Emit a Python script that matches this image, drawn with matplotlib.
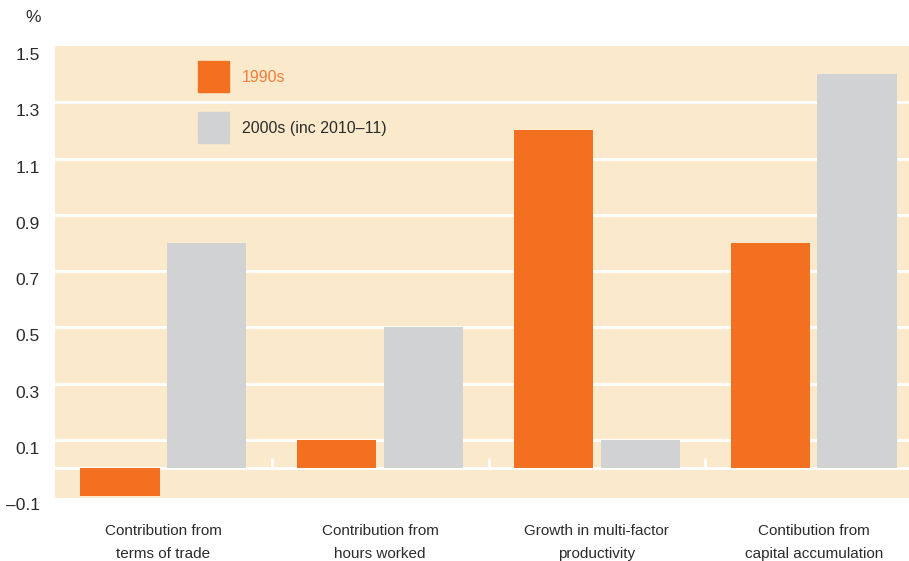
import matplotlib
matplotlib.use("Agg")
import matplotlib.pyplot as plt
import matplotlib.transforms as mtransforms
import numpy as np

categories = ["Contribution from\nterms of trade",
              "Contribution from\nhours worked",
              "Growth in multi-factor\nproductivity",
              "Contibution from\ncapital accumulation"]
series_names = ["1990s", "2000s (inc 2010\u201311)"]
values_1990s = [-0.1, 0.1, 1.2, 0.8]
values_2000s = [0.8, 0.5, 0.1, 1.4]
ytick_values = [-0.1, 0.1, 0.3, 0.5, 0.7, 0.9, 1.1, 1.3, 1.5]
ytick_labels = ["\u20130.1", "0.1", "0.3", "0.5", "0.7", "0.9", "1.1", "1.3", "1.5"]

ORANGE = "#F37021"
GREY = "#D1D2D4"
BG = "#FAEACB"
TEXT = "#2b2b2b"

plt.rcParams["font.family"] = ["Liberation Sans", "DejaVu Sans"]

W, H = 909, 561
fig = plt.figure(figsize=(W / 100, H / 100), dpi=100)
ax = fig.add_axes([55 / W, (H - 498) / H, (W - 55) / W, (498 - 46) / H])
ax.set_facecolor(BG)

x = np.arange(len(categories))
bw = 0.365
off = 0.2

# white guide lines behind the bars
for g in [0.1, 0.3, 0.5, 0.7, 0.9, 1.1, 1.3]:
    ax.axhline(g, color="white", lw=2, zorder=1)
ax.axhline(0, color="white", lw=2, zorder=1)

ax.bar(x - off, values_1990s, width=bw, color=ORANGE, zorder=2, label=series_names[0])
ax.bar(x + off, values_2000s, width=bw, color=GREY, zorder=2, label=series_names[1])

# small separators between the groups
for s in x[:-1] + 0.5:
    ax.plot([s, s], [0, 0.037], color="white", lw=2, zorder=1, solid_capstyle="butt")

ax.set_xlim(-0.5, 3.44)
ax.set_ylim(-0.106, 1.5)

for sp in ax.spines.values():
    sp.set_visible(False)

ax.set_xticks(x)
ax.set_xticklabels(categories, fontsize=11, color=TEXT, linespacing=1.75)
ax.tick_params(axis="x", length=0, pad=19)

ax.set_yticks(ytick_values)
ax.set_yticklabels(ytick_labels, fontsize=12.5, color=TEXT)
ax.tick_params(axis="y", length=0, pad=11)
shift = mtransforms.ScaledTranslation(0, -8 / 100, fig.dpi_scale_trans)
for lbl in ax.get_yticklabels():
    lbl.set_transform(lbl.get_transform() + shift)

fig.text(33 / W, 1 - 18 / H, "%", fontsize=12.5, color=TEXT, ha="center", va="center")

# legend drawn as swatches with text
fig_tr = fig.transFigure
for (y0, col, name, tcol) in [(61, ORANGE, series_names[0], "#F47C3C"),
                              (112, GREY, series_names[1], TEXT)]:
    fig.patches.append(plt.Rectangle((198 / W, 1 - (y0 + 31) / H), 31 / W, 31 / H,
                                     transform=fig_tr, color=col, zorder=5))
    fig.text(242 / W, 1 - (y0 + 16) / H, name, fontsize=11.5, color=tcol,
             ha="left", va="center")

fig.savefig("out.png", dpi=100, facecolor="white")
